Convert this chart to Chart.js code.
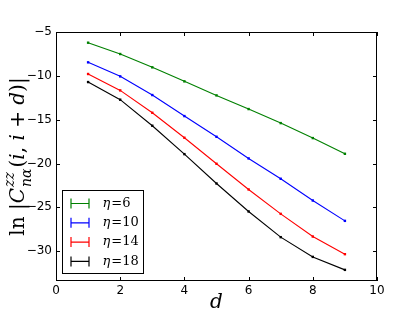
<!DOCTYPE html>
<html>
<head>
<meta charset="utf-8">
<script src="https://cdn.jsdelivr.net/npm/chart.js@4"></script>
<style>
  html, body { margin: 0; padding: 0; background: #fff; }
  #wrap { width: 415px; height: 312px; }
</style>
</head>
<body>
<div id="wrap"><canvas id="myChart" width="415" height="312"></canvas></div>
<script>
// data
var distances = [1, 2, 3, 4, 5, 6, 7, 8, 9];
var eta6  = [-6.22, -7.51, -9.03, -10.63, -12.23, -13.79, -15.39, -17.10, -18.89];
var eta10 = [-8.46, -10.06, -12.19, -14.59, -16.95, -19.42, -21.74, -24.22, -26.54];
var eta14 = [-9.79, -11.66, -14.21, -17.06, -20.03, -22.96, -25.74, -28.33, -30.34];
var eta18 = [-10.71, -12.72, -15.69, -18.93, -22.28, -25.47, -28.40, -30.65, -32.13];
var seriesNames = ['6', '10', '14', '18'];
var xTicks = [0, 2, 4, 6, 8, 10];
var yTicks = [-5, -10, -15, -20, -25, -30];

var colors = ['#008000', '#0000ff', '#ff0000', '#000000'];
var allSeries = [eta6, eta10, eta14, eta18];

function toPoints(vals) {
  return vals.map(function(v, i) { return { x: distances[i], y: v }; });
}

var datasets = allSeries.map(function(vals, k) {
  return {
    label: '\u03b7=' + seriesNames[k],
    data: toPoints(vals),
    borderColor: colors[k],
    backgroundColor: colors[k],
    borderWidth: 1.1,
    pointStyle: 'rect',
    pointRadius: 1.7,
    pointBorderWidth: 0,
    tension: 0
  };
});

function minus(v) { return String(v).replace('-', '\u2212'); }

// frame, inward ticks, legend and axis titles like matplotlib
var decorPlugin = {
  id: 'decor',
  afterDraw: function(chart) {
    var ctx = chart.ctx, a = chart.chartArea;
    var xs = chart.scales.x, ys = chart.scales.y;
    ctx.save();
    ctx.strokeStyle = '#000';
    ctx.lineWidth = 1;
    ctx.strokeRect(a.left + 0.5, a.top + 0.5, a.right - a.left - 1, a.bottom - a.top - 1);
    ctx.beginPath();
    xTicks.forEach(function(t) {
      var px = Math.round(xs.getPixelForValue(t)) + 0.5;
      ctx.moveTo(px, a.bottom); ctx.lineTo(px, a.bottom - 4);
      ctx.moveTo(px, a.top); ctx.lineTo(px, a.top + 4);
    });
    yTicks.forEach(function(t) {
      var py = Math.round(ys.getPixelForValue(t)) + 0.5;
      ctx.moveTo(a.left, py); ctx.lineTo(a.left + 4, py);
      ctx.moveTo(a.right, py); ctx.lineTo(a.right - 4, py);
    });
    ctx.stroke();

    // tick labels
    ctx.fillStyle = '#000';
    ctx.font = '12px "DejaVu Sans"';
    ctx.textAlign = 'center';
    ctx.textBaseline = 'top';
    xTicks.forEach(function(t) {
      ctx.fillText(String(t), xs.getPixelForValue(t), a.bottom + 4);
    });
    ctx.textAlign = 'right';
    ctx.textBaseline = 'middle';
    yTicks.forEach(function(t) {
      ctx.fillText(minus(t), a.left - 4, ys.getPixelForValue(t));
    });

    // x title
    ctx.font = 'italic 20px "DejaVu Serif"';
    ctx.textAlign = 'center';
    ctx.textBaseline = 'alphabetic';
    ctx.fillText('d', (a.left + a.right) / 2, 308);

    // y title: ln |C^{zz}_{nα}(i, i+d)|
    ctx.save();
    ctx.translate(19, (a.top + a.bottom) / 2);
    ctx.rotate(-Math.PI / 2);
    var big = '20px "DejaVu Serif"', bigI = 'italic 20px "DejaVu Serif"';
    var small = 'italic 14px "DejaVu Serif"';
    var parts = [
      { t: 'ln ', f: big },
      { t: '|', f: big },
      { t: 'C', f: bigI, sup: 'zz', sub: 'n\u03b1' },
      { t: '(', f: big },
      { t: 'i', f: bigI },
      { t: ', ', f: big },
      { t: 'i', f: bigI },
      { t: ' + ', f: big },
      { t: 'd', f: bigI },
      { t: ')|', f: big }
    ];
    var total = 0;
    parts.forEach(function(p) {
      ctx.font = p.f;
      p.w = ctx.measureText(p.t).width;
      if (p.sup) {
        ctx.font = small;
        p.extra = Math.max(ctx.measureText(p.sup).width, ctx.measureText(p.sub).width) + 2;
      } else p.extra = 0;
      total += p.w + p.extra;
    });
    var cx = -total / 2;
    ctx.textAlign = 'left';
    ctx.textBaseline = 'middle';
    parts.forEach(function(p) {
      ctx.font = p.f;
      ctx.fillText(p.t, cx, 0);
      cx += p.w;
      if (p.sup) {
        ctx.font = small;
        ctx.fillText(p.sup, cx + 1, -9);
        ctx.fillText(p.sub, cx + 1, 8);
        cx += p.extra;
      }
    });
    ctx.restore();

    // legend box
    var lx = 62.5, ly = 190.5, lw = 81, lh = 83;
    ctx.fillStyle = '#fff';
    ctx.fillRect(lx, ly, lw, lh);
    ctx.strokeStyle = '#000';
    ctx.lineWidth = 1;
    ctx.strokeRect(lx, ly, lw, lh);
    chart.data.datasets.forEach(function(ds, k) {
      var yy = ly + 13 + k * 19.3;
      ctx.strokeStyle = ds.borderColor;
      ctx.lineWidth = 1.2;
      ctx.beginPath();
      ctx.moveTo(lx + 8, yy); ctx.lineTo(lx + 27, yy);
      ctx.moveTo(lx + 8.5, yy - 5); ctx.lineTo(lx + 8.5, yy + 5);
      ctx.moveTo(lx + 26.5, yy - 5); ctx.lineTo(lx + 26.5, yy + 5);
      ctx.stroke();
      ctx.fillStyle = '#000';
      ctx.textBaseline = 'middle';
      ctx.textAlign = 'left';
      ctx.font = 'italic 13px "DejaVu Serif"';
      ctx.fillText('\u03b7', lx + 40, yy);
      var w1 = ctx.measureText('\u03b7').width;
      ctx.font = '13px "DejaVu Serif"';
      ctx.fillText('=' + seriesNames[k], lx + 40 + w1 + 1, yy);
    });
    ctx.restore();
  }
};

var config = {
  type: 'line',
  data: { datasets: datasets },
  options: {
    responsive: false,
    animation: false,
    layout: { padding: { left: 0, right: 38, top: 32, bottom: 0 } },
    plugins: { legend: { display: false }, tooltip: { enabled: false } },
    scales: {
      x: {
        type: 'linear', min: 0, max: 10,
        grid: { display: false, drawTicks: false },
        border: { display: false },
        ticks: { display: false },
        afterFit: function(s) { s.height = 31; }
      },
      y: {
        type: 'linear', min: -33.4, max: -5,
        grid: { display: false, drawTicks: false },
        border: { display: false },
        ticks: { display: false },
        afterFit: function(s) { s.width = 56; }
      }
    }
  },
  plugins: [decorPlugin]
};

var chart = new Chart(document.getElementById('myChart'), config);
</script>
</body>
</html>
